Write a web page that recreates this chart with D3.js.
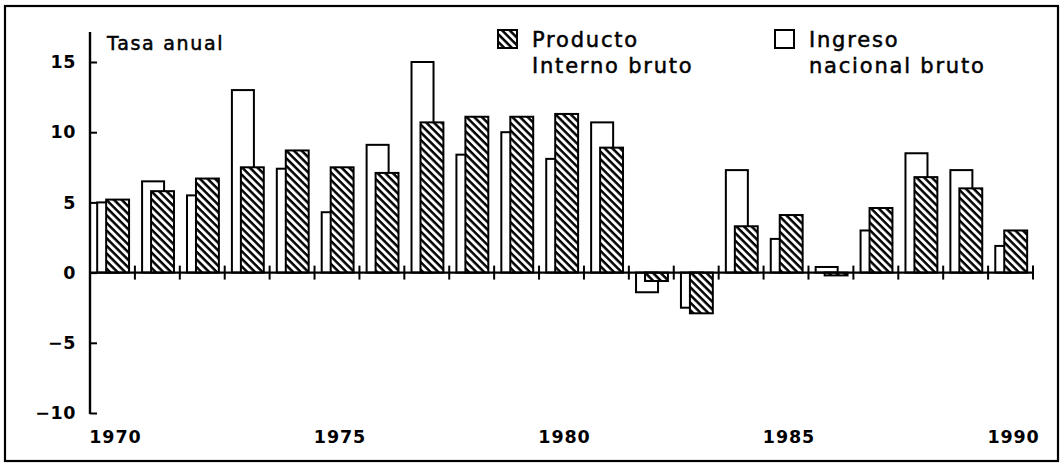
<!DOCTYPE html>
<html>
<head>
<meta charset="utf-8">
<script src="https://cdn.jsdelivr.net/npm/d3@7"></script>
<style>
  body { margin: 0; background: #fff; }
  text { font-family: "DejaVu Sans", sans-serif; fill: #000; }
</style>
</head>
<body>
<script>
"use strict";

// data (tasa anual, %)
var years = d3.range(1970, 1991);
var ingresoNacional = [5.0, 6.5, 5.5, 13.0, 7.4, 4.3, 9.1, 15.0, 8.4, 10.0, 8.1,
  10.7, -1.4, -2.5, 7.3, 2.4, 0.4, 3.0, 8.5, 7.3, 1.9];
var productoInterno = [5.2, 5.8, 6.7, 7.5, 8.7, 7.5, 7.1, 10.7, 11.1, 11.1, 11.3,
  8.9, -0.6, -2.9, 3.3, 4.1, -0.2, 4.6, 6.8, 6.0, 3.0];
var yTicks = [-10, -5, 0, 5, 10, 15];
var yearLabels = [1970, 1975, 1980, 1985, 1990];

(function () {
  var width = 1063, height = 464;

  var svg = d3.select("body")
    .append("svg")
    .attr("width", width)
    .attr("height", height);

  var defs = svg.append("defs");
  var pat = defs.append("pattern")
    .attr("id", "hatch")
    .attr("patternUnits", "userSpaceOnUse")
    .attr("width", 10)
    .attr("height", 5.4)
    .attr("patternTransform", "rotate(45)");
  pat.append("rect").attr("width", 10).attr("height", 5.4).attr("fill", "#fff");
  pat.append("rect").attr("y", 0).attr("width", 10).attr("height", 2.5).attr("fill", "#000");

  // outer frame
  svg.append("rect")
    .attr("x", 5).attr("y", 6)
    .attr("width", 1053).attr("height", 455)
    .attr("fill", "none")
    .attr("stroke", "#000")
    .attr("stroke-width", 2.2);

  var x = d3.scaleBand().domain(years).range([90, 1033]).padding(0);
  var y = d3.scaleLinear().domain([-10, 15]).range([413, 62]);
  var bw = x.bandwidth();

  // white bars (Ingreso nacional bruto)
  svg.append("g").selectAll("rect")
    .data(years)
    .enter()
    .append("rect")
    .attr("x", function (d) { return x(d) + bw * 0.16; })
    .attr("width", bw * 0.49)
    .attr("y", function (d, i) { return y(Math.max(0, ingresoNacional[i])); })
    .attr("height", function (d, i) { return Math.abs(y(ingresoNacional[i]) - y(0)); })
    .attr("fill", "#fff")
    .attr("stroke", "#000")
    .attr("stroke-width", 2);

  // hatched bars (Producto interno bruto)
  svg.append("g").selectAll("rect")
    .data(years)
    .enter()
    .append("rect")
    .attr("x", function (d) { return x(d) + bw * 0.36; })
    .attr("width", bw * 0.51)
    .attr("y", function (d, i) { return y(Math.max(0, productoInterno[i])); })
    .attr("height", function (d, i) { return Math.abs(y(productoInterno[i]) - y(0)); })
    .attr("fill", "url(#hatch)")
    .attr("stroke", "#000")
    .attr("stroke-width", 2);

  // y axis
  var yAxis = d3.axisLeft(y)
    .tickValues(yTicks)
    .tickSize(-7)
    .tickPadding(14)
    .tickFormat(function (d) { return d < 0 ? "\u2212" + Math.abs(d) : d; });

  var gy = svg.append("g")
    .attr("transform", "translate(90,0)")
    .call(yAxis);
  gy.select(".domain").remove();
  gy.selectAll(".tick line").attr("stroke", "#000").attr("stroke-width", 2);
  gy.selectAll(".tick text")
    .attr("font-size", 17.5)
    .attr("font-weight", "bold")
    .attr("font-family", "DejaVu Sans")
    .attr("letter-spacing", 0.6);

  svg.append("line")
    .attr("x1", 90).attr("x2", 90)
    .attr("y1", 32).attr("y2", y(-10) + 1)
    .attr("stroke", "#000")
    .attr("stroke-width", 2.4);

  // zero line with ticks between years
  svg.append("line")
    .attr("x1", 90).attr("x2", 1033)
    .attr("y1", y(0)).attr("y2", y(0))
    .attr("stroke", "#000")
    .attr("stroke-width", 2.4);

  svg.append("g").selectAll("line")
    .data(years)
    .enter()
    .append("line")
    .attr("x1", function (d) { return x(d) + bw; })
    .attr("x2", function (d) { return x(d) + bw; })
    .attr("y1", y(0) - 7)
    .attr("y2", y(0) + 7)
    .attr("stroke", "#000")
    .attr("stroke-width", 2);

  svg.append("g").selectAll("text")
    .data(yearLabels)
    .enter()
    .append("text")
    .attr("x", function (d) { return x(d) + bw / 2 + 3; })
    .attr("y", 443)
    .attr("text-anchor", "middle")
    .attr("font-size", 17.5)
    .attr("font-weight", "bold")
    .attr("letter-spacing", 0.9)
    .text(function (d) { return d; });

  // axis title
  svg.append("text")
    .attr("x", 107).attr("y", 50)
    .attr("font-size", 19)
    .attr("letter-spacing", 1.7)
    .attr("stroke", "#000")
    .attr("stroke-width", 0.5)
    .text("Tasa anual");

  // legend
  var legend = [
    { x: 498, fill: "url(#hatch)", lines: ["Producto", "Interno bruto"] },
    { x: 775, fill: "#fff", lines: ["Ingreso", "nacional bruto"] }
  ];

  var lg = svg.append("g").selectAll("g")
    .data(legend)
    .enter()
    .append("g");

  lg.append("rect")
    .attr("x", function (d) { return d.x; })
    .attr("y", 30)
    .attr("width", 19)
    .attr("height", 18)
    .attr("fill", function (d) { return d.fill; })
    .attr("stroke", "#000")
    .attr("stroke-width", 2);

  lg.append("text")
    .attr("x", function (d) { return d.x + 34; })
    .attr("y", 47)
    .attr("font-size", 21)
    .attr("letter-spacing", 1.8)
    .attr("stroke", "#000")
    .attr("stroke-width", 0.5)
    .selectAll("tspan")
    .data(function (d) { return d.lines; })
    .enter()
    .append("tspan")
    .attr("x", function () { return d3.select(this.parentNode).attr("x"); })
    .attr("dy", function (d, i) { return i === 0 ? 0 : 26; })
    .text(function (d) { return d; });
})();
</script>
</body>
</html>
